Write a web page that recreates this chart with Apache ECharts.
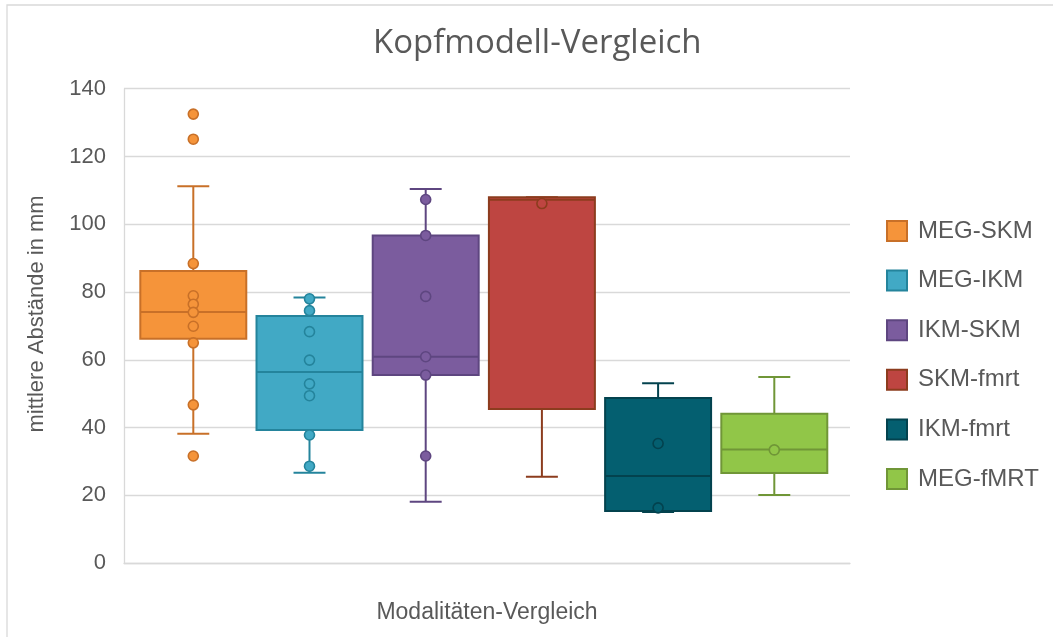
<!DOCTYPE html>
<html>
<head>
<meta charset="utf-8">
<title>Kopfmodell-Vergleich</title>
<script src="https://cdn.jsdelivr.net/npm/echarts@6/dist/echarts.min.js"></script>
<style>
  html, body { margin: 0; padding: 0; background: #ffffff; }
  #chart { width: 1053px; height: 637px; }
</style>
</head>
<body>
<div id="chart"></div>
<script>
// Comparison groups (one box per pair of head models / modalities)
const groupNames = ['MEG-SKM', 'MEG-IKM', 'IKM-SKM', 'SKM-fmrt', 'IKM-fmrt', 'MEG-fMRT'];
const categoryLabel = 'Modalitäten-Vergleich';

// Five-number summaries in mm: [lower whisker, Q1, median, Q3, upper whisker]
const megSkmBox  = [38.2, 66.2, 74.1, 86.2, 111.2];
const megIkmBox  = [26.7, 39.3, 56.4, 72.9, 78.4];
const ikmSkmBox  = [18.1, 55.5, 60.9, 96.7, 110.4];
const skmFmrtBox = [25.5, 45.5, 107.2, 108.0, 108.0];
const ikmFmrtBox = [15.1, 15.4, 25.7, 48.7, 53.1];
const megFmrtBox = [20.1, 26.6, 33.5, 44.1, 54.9];

// Individual mean distances in mm
const megSkmPoints  = [132.5, 125.1, 88.4, 78.9, 76.4, 74.0, 69.9, 65.0, 46.7, 31.6];
const megIkmPoints  = [78.0, 74.5, 68.3, 59.9, 52.9, 49.4, 37.8, 28.6];
const ikmSkmPoints  = [107.3, 96.7, 78.7, 60.9, 55.5, 31.6];
const skmFmrtPoints = [106.1];
const ikmFmrtPoints = [35.3, 16.3];
const megFmrtPoints = [33.4];

// Value axis
const yMin = 0;
const yMax = 140;
const yStep = 20;

const boxStats = [megSkmBox, megIkmBox, ikmSkmBox, skmFmrtBox, ikmFmrtBox, megFmrtBox];
const pointSets = [megSkmPoints, megIkmPoints, ikmSkmPoints, skmFmrtPoints, ikmFmrtPoints, megFmrtPoints];

const fillColors = ['#F5943A', '#41A9C5', '#7B5C9E', '#BE4541', '#045F70', '#91C648'];
const edgeColors = ['#C87028', '#24849C', '#5E4680', '#8C3C1E', '#03424E', '#709637'];

const textColor = '#595959';
const gridColor = '#D9D9D9';
const plotTop = 88.7;
const plotBottom = 73.9;

const BOX_RATIO = 0.912;   // box width relative to one slot
const CAP_RATIO = 0.275;   // whisker cap width relative to one slot

function makeBoxRenderer(fill, edge) {
  return function (params, api) {
    const slot = api.value(0);
    const pMin = api.coord([slot, api.value(1)]);
    const pQ1  = api.coord([slot, api.value(2)]);
    const pMed = api.coord([slot, api.value(3)]);
    const pQ3  = api.coord([slot, api.value(4)]);
    const pMax = api.coord([slot, api.value(5)]);
    const band = api.size([1, 0])[0];
    const bw = band * BOX_RATIO;
    const cw = band * CAP_RATIO;
    const cx = pMed[0];
    const lineStyle = { stroke: edge, lineWidth: 2, fill: null };
    return {
      type: 'group',
      children: [
        { type: 'line', shape: { x1: cx, y1: pQ3[1], x2: cx, y2: pMax[1] }, style: lineStyle },
        { type: 'line', shape: { x1: cx, y1: pQ1[1], x2: cx, y2: pMin[1] }, style: lineStyle },
        { type: 'line', shape: { x1: cx - cw / 2, y1: pMax[1], x2: cx + cw / 2, y2: pMax[1] }, style: lineStyle },
        { type: 'line', shape: { x1: cx - cw / 2, y1: pMin[1], x2: cx + cw / 2, y2: pMin[1] }, style: lineStyle },
        {
          type: 'rect',
          shape: { x: cx - bw / 2, y: pQ3[1], width: bw, height: pQ1[1] - pQ3[1] },
          style: { fill: fill, stroke: edge, lineWidth: 2 }
        },
        { type: 'line', shape: { x1: cx - bw / 2, y1: pMed[1], x2: cx + bw / 2, y2: pMed[1] }, style: lineStyle }
      ]
    };
  };
}

const series = [];
groupNames.forEach(function (name, i) {
  series.push({
    name: name,
    type: 'custom',
    xAxisIndex: 1,
    yAxisIndex: 1,
    renderItem: makeBoxRenderer(fillColors[i], edgeColors[i]),
    itemStyle: { color: fillColors[i], borderColor: edgeColors[i], borderWidth: 2 },
    encode: { x: 0, y: [1, 2, 3, 4, 5] },
    data: [[i].concat(boxStats[i])],
    z: 2,
    silent: true
  });
});
groupNames.forEach(function (name, i) {
  series.push({
    name: name,
    type: 'scatter',
    xAxisIndex: 1,
    yAxisIndex: 1,
    symbol: 'circle',
    symbolSize: 10,
    itemStyle: { color: fillColors[i], borderColor: edgeColors[i], borderWidth: 1.6, opacity: 1 },
    data: pointSets[i].map(function (v) { return [i, v]; }),
    z: 3,
    silent: true
  });
});

const chart = echarts.init(document.getElementById('chart'), null, { renderer: 'canvas' });

chart.setOption({
  backgroundColor: '#ffffff',
  animation: false,
  title: {
    text: 'Kopfmodell-Vergleich',
    left: 368,
    top: 22,
    textStyle: { fontFamily: 'Open Sans', fontSize: 33, fontWeight: 'normal', color: textColor }
  },
  legend: {
    orient: 'vertical',
    left: 881,
    top: 214,
    itemWidth: 20,
    itemHeight: 20,
    itemGap: 25.6,
    icon: 'rect',
    selectedMode: false,
    textStyle: { fontFamily: 'Liberation Sans', fontSize: 24, color: textColor, padding: [0, 0, 0, 6] },
    data: groupNames.map(function (name, i) {
      return { name: name, icon: 'rect', itemStyle: { color: fillColors[i], borderColor: edgeColors[i], borderWidth: 2 } };
    })
  },
  graphic: [{
    type: 'rect',
    shape: { x: 7, y: 5, width: 1200, height: 800 },
    style: { fill: null, stroke: gridColor, lineWidth: 1.3 },
    silent: true,
    z: -10
  }],
  grid: [
    { left: 124, right: 203, top: plotTop, bottom: plotBottom },
    { left: 135.2, right: 220.6, top: plotTop, bottom: plotBottom }
  ],
  xAxis: [
    {
      type: 'category',
      gridIndex: 0,
      data: [''],
      name: categoryLabel,
      nameLocation: 'middle',
      nameGap: 38,
      nameTextStyle: { fontFamily: 'Liberation Sans', fontSize: 23, color: textColor },
      axisLine: { show: true, lineStyle: { color: gridColor, width: 1.3 } },
      axisTick: { show: false },
      axisLabel: { show: false }
    },
    {
      type: 'category',
      gridIndex: 1,
      data: groupNames,
      show: false
    }
  ],
  yAxis: [
    {
      type: 'value',
      gridIndex: 0,
      min: yMin,
      max: yMax,
      interval: yStep,
      name: 'mittlere Abstände in mm',
      nameLocation: 'middle',
      nameRotate: 90,
      nameGap: 76,
      nameTextStyle: { fontFamily: 'Liberation Sans', fontSize: 22, color: textColor, padding: [0, 0, 0, 24] },
      axisLine: { show: true, lineStyle: { color: gridColor, width: 1.3 } },
      axisTick: { show: false },
      axisLabel: { margin: 18, fontFamily: 'Liberation Sans', fontSize: 22, color: textColor },
      splitLine: { show: true, lineStyle: { color: gridColor, width: 1.3 } }
    },
    {
      type: 'value',
      gridIndex: 1,
      min: yMin,
      max: yMax,
      interval: yStep,
      show: false,
      splitLine: { show: false }
    }
  ],
  series: series
});
</script>
</body>
</html>
